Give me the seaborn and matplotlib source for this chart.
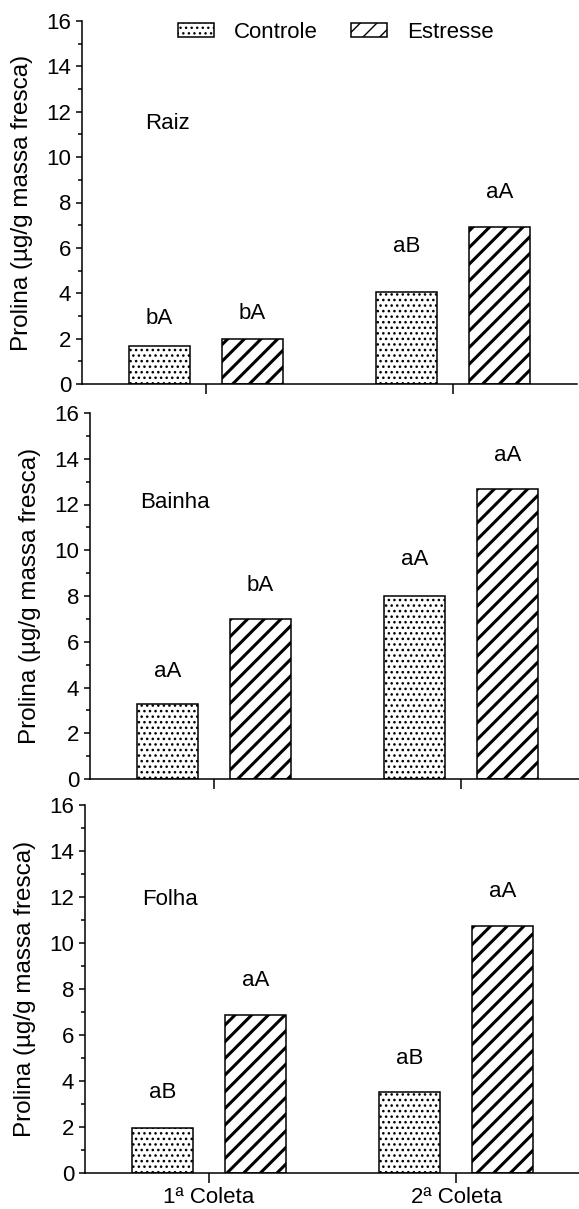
import numpy as np
import pandas as pd
import matplotlib
matplotlib.use("Agg")
import matplotlib.pyplot as plt
import seaborn as sns
from matplotlib.patches import Patch
from matplotlib.ticker import MultipleLocator

# ---------------- data ----------------
coletas = ["1ª Coleta", "2ª Coleta"]
tratamentos = ["Controle", "Estresse"]
orgaos = ["Raiz", "Bainha", "Folha"]

raiz_controle = [1.66, 4.04]
raiz_estresse = [1.98, 6.93]
bainha_controle = [3.27, 8.01]
bainha_estresse = [6.99, 12.67]
folha_controle = [1.97, 3.54]
folha_estresse = [6.87, 10.73]

raiz_letras_controle = ["bA", "aB"]
raiz_letras_estresse = ["bA", "aA"]
bainha_letras_controle = ["aA", "aA"]
bainha_letras_estresse = ["bA", "aA"]
folha_letras_controle = ["aB", "aB"]
folha_letras_estresse = ["aA", "aA"]

# heights (data units) at which the significance letters are centred
raiz_letras_y_controle = [2.9, 6.06]
raiz_letras_y_estresse = [3.1, 8.44]
bainha_letras_y_controle = [4.69, 9.58]
bainha_letras_y_estresse = [8.48, 14.13]
folha_letras_y_controle = [3.52, 4.98]
folha_letras_y_estresse = [8.38, 12.26]

orgao_nome_y = [11.5, 12.1, 11.9]

y_ticks = [0, 2, 4, 6, 8, 10, 12, 14, 16]
ylabel = "Prolina (µg/g massa fresca)"

# ---------------- style ----------------
sns.set_style("ticks")
plt.rcParams["font.family"] = ["Liberation Sans", "DejaVu Sans"]
plt.rcParams["axes.edgecolor"] = "black"
plt.rcParams["xtick.color"] = "black"
plt.rcParams["ytick.color"] = "black"
plt.rcParams["text.color"] = "black"
plt.rcParams["axes.labelcolor"] = "black"
plt.rcParams["hatch.linewidth"] = 1.0

W, H = 579, 1209
fig = plt.figure(figsize=(W / 100, H / 100), dpi=100)

# axes frames in pixels: (left, top, bottom)
frames = [(82, 21, 384), (90, 413, 779), (85, 805, 1173)]
unit_px = 247.5  # pixels per category step

panels = [
    (raiz_controle, raiz_estresse, raiz_letras_controle, raiz_letras_estresse,
     raiz_letras_y_controle, raiz_letras_y_estresse),
    (bainha_controle, bainha_estresse, bainha_letras_controle, bainha_letras_estresse,
     bainha_letras_y_controle, bainha_letras_y_estresse),
    (folha_controle, folha_estresse, folha_letras_controle, folha_letras_estresse,
     folha_letras_y_controle, folha_letras_y_estresse),
]

hatches = ["...", "//"]
hatch_lw = [1.05, 2.2]
FS = 16

axes = []
for k, (frame, pdata) in enumerate(zip(frames, panels)):
    left, top, bottom = frame
    ax = fig.add_axes([left / W, 1 - bottom / H, 2 * unit_px / W, (bottom - top) / H])
    axes.append(ax)
    ctrl, estr, lc, le, lyc, lye = pdata
    df = pd.DataFrame({
        "Coleta": coletas * 2,
        "Tratamento": [tratamentos[0]] * 2 + [tratamentos[1]] * 2,
        "Prolina": list(ctrl) + list(estr),
    })
    sns.barplot(data=df, x="Coleta", y="Prolina", hue="Tratamento",
                order=coletas, hue_order=tratamentos, width=0.752, gap=0.34,
                palette=["white", "white"], saturation=1, errorbar=None,
                edgecolor="black", linewidth=1.1, legend=False, ax=ax)
    for cont, h, hl, letras, ys in zip(ax.containers, hatches, hatch_lw, [lc, le], [lyc, lye]):
        for bar, txt, yy in zip(cont, letras, ys):
            bar.set_facecolor("white")
            bar.set_edgecolor("black")
            bar.set_hatch(h)
            if hasattr(bar, "set_hatch_linewidth"):
                bar.set_hatch_linewidth(hl)
            ax.text(bar.get_x() + bar.get_width() / 2, yy, txt,
                    ha="center", va="center", fontsize=FS)
    ax.text(-0.155, orgao_nome_y[k], orgaos[k], ha="center", va="center", fontsize=FS)

    ax.set_xlim(-0.5, 1.5)
    ax.set_ylim(0, 16)
    ax.set_yticks(y_ticks)
    ax.yaxis.set_minor_locator(MultipleLocator(1))
    sns.despine(ax=ax)
    for s in ["left", "bottom"]:
        ax.spines[s].set_linewidth(1.1)
    ax.tick_params(axis="y", which="major", length=4.3, width=1.1, direction="out",
                   labelsize=FS, pad=3.6)
    ax.tick_params(axis="y", which="minor", length=2.9, width=1.1, direction="out")
    ax.tick_params(axis="x", which="major", length=7.2, width=1.1, direction="out",
                   labelsize=FS, pad=3.0)
    ax.set_xlabel("")
    ax.set_ylabel(ylabel, fontsize=17.5)
    ax.yaxis.set_label_coords(-0.098, 0.5)
    if k < 2:
        ax.set_xticklabels([])

# legend
handles = [Patch(facecolor="white", edgecolor="black", hatch=h, linewidth=1.1)
           for h in hatches]
for p, hl in zip(handles, hatch_lw):
    if hasattr(p, "set_hatch_linewidth"):
        p.set_hatch_linewidth(hl)
axes[0].legend(handles, tratamentos, loc="center left",
               bbox_to_anchor=(178 / W, 1 - 32 / H), bbox_transform=fig.transFigure,
               frameon=False, ncol=2, fontsize=FS, borderpad=0, borderaxespad=0,
               handlelength=1.62, handleheight=0.6, handletextpad=0.9,
               columnspacing=1.5)

fig.savefig("out.png", dpi=100)
